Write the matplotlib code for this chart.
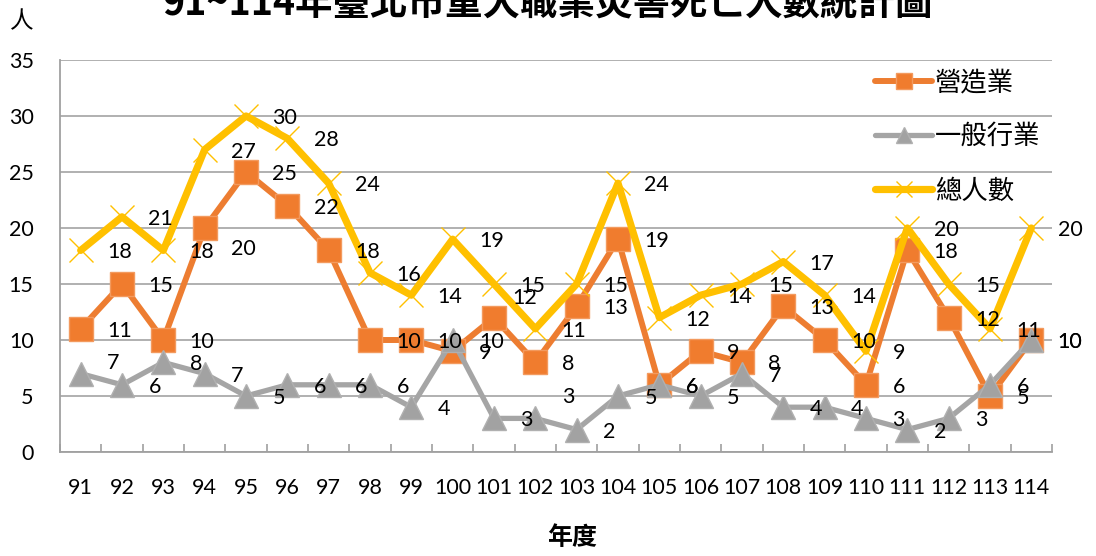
import matplotlib
matplotlib.use("Agg")
import matplotlib.pyplot as plt
import numpy as np

years = ["91", "92", "93", "94", "95", "96", "97", "98", "99", "100", "101", "102",
         "103", "104", "105", "106", "107", "108", "109", "110", "111", "112", "113", "114"]
construction = [11, 15, 10, 20, 25, 22, 18, 10, 10, 9, 12, 8, 13, 19, 6, 9, 8, 13, 10, 6, 18, 12, 5, 10]
general = [7, 6, 8, 7, 5, 6, 6, 6, 4, 10, 3, 3, 2, 5, 6, 5, 7, 4, 4, 3, 2, 3, 6, 10]
total = [18, 21, 18, 27, 30, 28, 24, 16, 14, 19, 15, 11, 15, 24, 12, 14, 15, 17, 14, 9, 20, 15, 11, 20]

series_names = ["營造業", "一般行業", "總人數"]
title = "91~114年臺北市重大職業災害死亡人數統計圖"
y_unit = "人"
x_title = "年度"

NUM_FONT = ["Lato", "Noto Sans CJK TC", "DejaVu Sans"]
CJK_FONT = ["Noto Sans CJK TC", "DejaVu Sans"]
plt.rcParams["font.family"] = NUM_FONT

W, H = 1096, 556
fig = plt.figure(figsize=(W / 100, H / 100), dpi=100)
ax = fig.add_axes([60 / W, 1 - 452 / H, (1052 - 60) / W, (452 - 60) / H])

x = np.arange(len(years))
orange = "#ED7D31"
gray = "#A5A5A5"
yellow = "#FFC000"

ax.plot(x, construction, color=orange, lw=4.3, marker="s", ms=17,
        mfc="#F07C2E", mec="#F39A5E", mew=1.0, zorder=3, label=series_names[0],
        solid_joinstyle="round", solid_capstyle="round")
ax.plot(x, general, color=gray, lw=3.8, marker="^", ms=17,
        mfc="#A2A2A2", mec="#B0B0B0", mew=1.0, zorder=4, label=series_names[1],
        solid_joinstyle="round", solid_capstyle="round")
ax.plot(x, total, color=yellow, lw=5.2, marker="x", ms=17,
        mec=yellow, mew=1.0, zorder=5, label=series_names[2],
        solid_joinstyle="round", solid_capstyle="round")

# data labels (to the right of points)
nudges = {("c", 3): (0, -13.7), ("c", 10): (-5.8, 15.8), ("g", 0): (0, 9.4), ("g", 11): (0, 16.6)}
for key, vals in (("c", construction), ("g", general), ("t", total)):
    for i, v in enumerate(vals):
        dx, dy = nudges.get((key, i), (0, 0))
        ax.annotate(str(v), (x[i], v), xytext=(19 + dx, dy), textcoords="offset points",
                    ha="left", va="center_baseline", fontsize=15.5, color="black",
                    zorder=10, annotation_clip=False)

ax.set_xlim(-0.5, len(years) - 0.5)
ax.set_ylim(0, 35)
ax.set_yticks(np.arange(0, 36, 5))
ax.set_xticks(x)
ax.set_xticklabels(years)
ax.set_xticks(np.arange(-0.5, len(years), 1), minor=True)
ax.tick_params(axis="x", which="major", length=0, pad=19, labelsize=15.5)
ax.tick_params(axis="x", which="minor", direction="in", length=6, width=1.2, color="#A0A0A0")
ax.tick_params(axis="y", length=0, pad=19, labelsize=15.5)

ax.grid(axis="y", color="#A3A3A3", lw=1.2)
ax.set_axisbelow(True)
for s in ("top", "right"):
    ax.spines[s].set_visible(False)
for s in ("left", "bottom"):
    ax.spines[s].set_color("#A0A0A0")
    ax.spines[s].set_linewidth(1.3)

leg = ax.legend(loc="upper left", bbox_to_anchor=(875 / W, 1 - 69 / H),
                bbox_transform=fig.transFigure, frameon=False,
                prop={"family": CJK_FONT, "size": 19}, handlelength=2.16,
                handletextpad=0.12, labelspacing=1.03, markerscale=0.7,
                borderpad=0, borderaxespad=0)

fig.text(548 / W, 1 - 15.5 / H, title, ha="center", va="baseline",
         fontsize=27, fontweight="bold", family=CJK_FONT)
fig.text(22 / W, 1 - 22 / H, y_unit, ha="center", va="center", fontsize=17, family=CJK_FONT)
fig.text(572 / W, 1 - 538 / H, x_title, ha="center", va="center", fontsize=18,
         fontweight="bold", family=CJK_FONT)

fig.savefig("out.png", dpi=100)
